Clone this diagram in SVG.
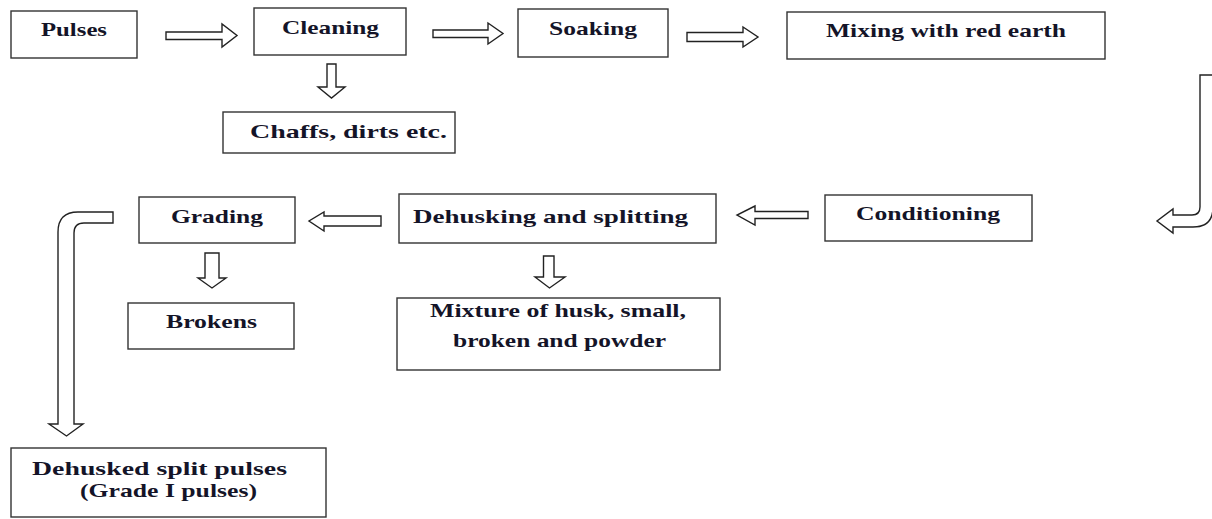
<svg xmlns="http://www.w3.org/2000/svg" width="1212" height="519" viewBox="0 0 1212 519">
<style>
.box{fill:#fff;stroke:#333;stroke-width:1.4}
.arr{fill:#fff;stroke:#222;stroke-width:1.4;stroke-linejoin:miter}
.t{font-family:"Liberation Serif","Times New Roman",serif;font-weight:bold;font-size:19.5px;fill:#141428}
</style>
<rect width="1212" height="519" fill="#fff"/>
<g id="connectors">
<polygon class="arr" points="166,32 222,32 222,24 237,35.5 222,47 222,39.5 166,39.5"/>
<polygon class="arr" points="433,30 488,30 488,23 503,33.5 488,44 488,37.5 433,37.5"/>
<polygon class="arr" points="687,32.5 743,32.5 743,27 758,37 743,47 743,41.5 687,41.5"/>
<polygon class="arr" points="327,64 336,64 336,87 345,87 331.5,98 318,87 327,87"/>
<polygon class="arr" points="543.5,256 554,256 554,277 565,277 549.5,288 535,277 543.5,277"/>
<polygon class="arr" points="205,253 219,253 219,278 226,278 212,288 198,278 205,278"/>
<polygon class="arr" points="808,211.5 755,211.5 755,206 737,215 755,225 755,218.5 808,218.5"/>
<polygon class="arr" points="381,216 324,216 324,212 309,221 324,231 324,226 381,226"/>
<path class="arr" d="M113,212 L78,212 Q58,212 58,232 L58,424 L49,424 L66.5,436 L83,424 L74,424 L74,233 Q74,223 84,223 L113,223 Z"/>
<path class="arr" d="M1200,75 L1213,75 L1213,207 Q1213,227 1193,227 L1173,227 L1173,233 L1157,221 L1173,209 L1173,215 L1192,215 Q1200,215 1200,207 Z"/>
</g>
<g id="pulses"><rect class="box" x="11" y="11" width="126" height="47"/><text class="t" x="41" y="36" textLength="66" lengthAdjust="spacingAndGlyphs">Pulses</text></g>
<g id="cleaning"><rect class="box" x="254" y="8" width="152" height="47"/><text class="t" x="282" y="34" textLength="97" lengthAdjust="spacingAndGlyphs">Cleaning</text></g>
<g id="soaking"><rect class="box" x="518" y="9" width="150" height="48"/><text class="t" x="549" y="35" textLength="88" lengthAdjust="spacingAndGlyphs">Soaking</text></g>
<g id="mixing"><rect class="box" x="787" y="12" width="318" height="47"/><text class="t" x="826" y="37" textLength="240" lengthAdjust="spacingAndGlyphs">Mixing with red earth</text></g>
<g id="chaffs"><rect class="box" x="223" y="112" width="232" height="41"/><text class="t" x="250" y="138" textLength="197" lengthAdjust="spacingAndGlyphs">Chaffs, dirts etc.</text></g>
<g id="conditioning"><rect class="box" x="825" y="195" width="207" height="46"/><text class="t" x="856" y="220" textLength="144" lengthAdjust="spacingAndGlyphs">Conditioning</text></g>
<g id="dehusking"><rect class="box" x="399" y="194" width="317" height="49"/><text class="t" x="413" y="223" textLength="275" lengthAdjust="spacingAndGlyphs">Dehusking and splitting</text></g>
<g id="grading"><rect class="box" x="139" y="197" width="156" height="46"/><text class="t" x="171" y="223" textLength="92" lengthAdjust="spacingAndGlyphs">Grading</text></g>
<g id="brokens"><rect class="box" x="128" y="303" width="166" height="46"/><text class="t" x="166" y="328" textLength="91" lengthAdjust="spacingAndGlyphs">Brokens</text></g>
<g id="mixture"><rect class="box" x="397" y="298" width="323" height="72"/><text class="t" x="430" y="317" textLength="256" lengthAdjust="spacingAndGlyphs">Mixture of husk, small,</text><text class="t" x="453" y="347" textLength="213" lengthAdjust="spacingAndGlyphs">broken and powder</text></g>
<g id="dehusked"><rect class="box" x="11" y="448" width="315" height="69"/><text class="t" x="32" y="475" textLength="255" lengthAdjust="spacingAndGlyphs">Dehusked split pulses</text><text class="t" x="80" y="497" textLength="177" lengthAdjust="spacingAndGlyphs">(Grade I pulses)</text></g>
</svg>
